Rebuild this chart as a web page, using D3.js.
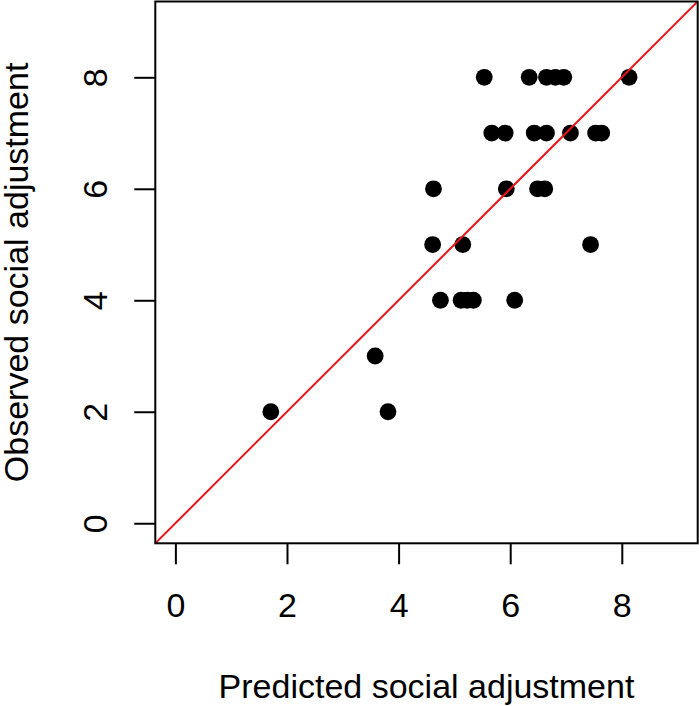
<!DOCTYPE html>
<html>
<head>
<meta charset="utf-8">
<script src="https://cdn.jsdelivr.net/npm/d3@7/dist/d3.min.js"></script>
<style>
  html, body { margin: 0; padding: 0; background: #fff; }
  svg { display: block; }
  text { font-family: "Liberation Sans", Arial, Helvetica, sans-serif; fill: #000; }
</style>
</head>
<body>
<svg id="chart" width="699" height="706"></svg>
<script>
// ---- Data ----
const predicted = [
  5.535, 6.34, 6.65, 6.81, 6.96, 8.13,          // observed 8
  5.67, 5.91, 6.43, 6.65, 7.08, 7.53, 7.64,     // observed 7
  4.625, 5.93, 6.49, 6.62,                      // observed 6
  4.61, 5.15, 7.44,                             // observed 5
  4.75, 5.12, 5.23, 5.34, 6.08,                 // observed 4
  3.58,                                         // observed 3
  1.71, 3.81                                    // observed 2
];
const observed = [
  8, 8, 8, 8, 8, 8,
  7, 7, 7, 7, 7, 7, 7,
  6, 6, 6, 6,
  5, 5, 5,
  4, 4, 4, 4, 4,
  3,
  2, 2
];
const xTicks = [0, 2, 4, 6, 8];
const yTicks = [0, 2, 4, 6, 8];
const xLim = [0, 9];
const yLim = [0, 9];
const xTitle = "Predicted social adjustment";
const yTitle = "Observed social adjustment";

// ---- Layout ----
const plot = { left: 155.3, right: 697.7, top: 1.5, bottom: 543.3 };
const ext = (lim) => { const d = (lim[1] - lim[0]) * 0.04; return [lim[0] - d, lim[1] + d]; };

const x = d3.scaleLinear().domain(ext(xLim)).range([plot.left, plot.right]);
const y = d3.scaleLinear().domain(ext(yLim)).range([plot.bottom, plot.top]);

const svg = d3.select("#chart");
const fontSize = 34;

svg.append("defs").append("clipPath").attr("id", "clip")
  .append("rect")
  .attr("x", plot.left).attr("y", plot.top)
  .attr("width", plot.right - plot.left).attr("height", plot.bottom - plot.top);

// Points
const pts = predicted.map((p, i) => ({ p, o: observed[i] }));
svg.append("g")
  .selectAll("circle")
  .data(pts)
  .join("circle")
  .attr("cx", d => x(d.p))
  .attr("cy", d => y(d.o))
  .attr("r", 8.4)
  .attr("fill", "#000");

// Identity line (abline 0,1)
const dom = x.domain();
svg.append("line")
  .attr("clip-path", "url(#clip)")
  .attr("x1", x(dom[0])).attr("y1", y(dom[0]))
  .attr("x2", x(dom[1])).attr("y2", y(dom[1]))
  .attr("stroke", "#e8141a")
  .attr("stroke-width", 2);

// Box
svg.append("rect")
  .attr("x", plot.left).attr("y", plot.top)
  .attr("width", plot.right - plot.left).attr("height", plot.bottom - plot.top)
  .attr("fill", "none").attr("stroke", "#000").attr("stroke-width", 2);

// X axis
const xAxis = d3.axisBottom(x).tickValues(xTicks).tickSize(21).tickPadding(0).tickFormat(d3.format("d"));
const gx = svg.append("g").attr("transform", `translate(0,${plot.bottom})`).call(xAxis);
gx.select(".domain").remove();
gx.selectAll(".tick line").attr("stroke", "#000").attr("stroke-width", 2);
gx.selectAll(".tick text")
  .attr("y", 616.7 - plot.bottom)
  .attr("dy", null)
  .style("font-size", fontSize + "px")
  .style("font-family", '"Liberation Sans", Arial, sans-serif')
  .attr("fill", "#000");

// Y axis
const yAxis = d3.axisLeft(y).tickValues(yTicks).tickSize(21).tickPadding(0).tickFormat(d3.format("d"));
const gy = svg.append("g").attr("transform", `translate(${plot.left},0)`).call(yAxis);
gy.select(".domain").remove();
gy.selectAll(".tick line").attr("stroke", "#000").attr("stroke-width", 2);
gy.selectAll(".tick text")
  .attr("x", null).attr("dy", null)
  .attr("text-anchor", "middle")
  .attr("transform", `translate(${107.3 - plot.left},0) rotate(-90)`)
  .style("font-size", fontSize + "px")
  .style("font-family", '"Liberation Sans", Arial, sans-serif')
  .attr("fill", "#000");

// Titles
svg.append("text")
  .attr("x", (plot.left + plot.right) / 2)
  .attr("y", 698.3)
  .attr("text-anchor", "middle")
  .style("font-size", fontSize + "px")
  .text(xTitle);

svg.append("text")
  .attr("transform", `translate(27.5,${(plot.top + plot.bottom) / 2}) rotate(-90)`)
  .attr("text-anchor", "middle")
  .style("font-size", fontSize + "px")
  .text(yTitle);
</script>
</body>
</html>
